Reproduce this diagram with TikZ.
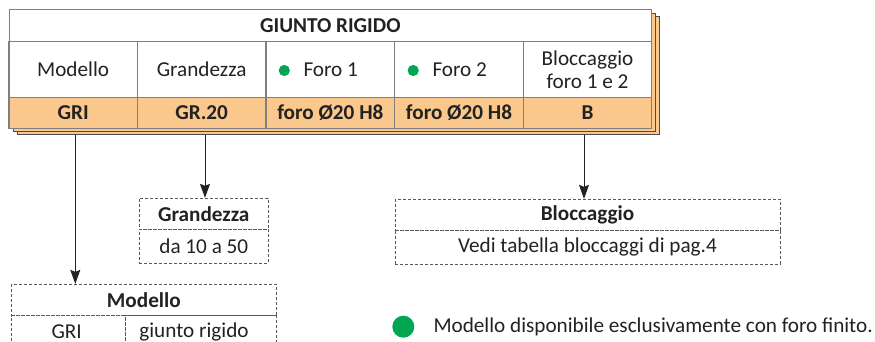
\documentclass[tikz,border=0pt]{standalone}
\usepackage{fontspec}
\setmainfont{Carlito}
\usetikzlibrary{arrows.meta}
\definecolor{orfill}{HTML}{FAC78C}
\definecolor{grline}{HTML}{7F7F7F}
\definecolor{shline}{HTML}{4D4D4D}
\definecolor{dotgreen}{HTML}{00A651}
\definecolor{txt}{HTML}{222222}
\definecolor{dashc}{HTML}{595959}
\tikzset{
  every node/.style={font=\fontsize{21.2}{24}\selectfont, text=txt, inner sep=0pt},
  cell/.style={draw=grline, line width=1pt, fill=white, minimum width=128.5pt, minimum height=56pt, align=center},
  ocell/.style={draw=grline, line width=1pt, fill=orfill, minimum width=128.5pt, minimum height=30.6pt, font=\fontsize{21.2}{24}\selectfont\bfseries},
  dbox/.style={draw=dashc, line width=0.9pt, dash pattern=on 3pt off 2pt, align=center},
  arr/.style={draw=txt, line width=1pt, -{Stealth[length=14pt,width=10pt,inset=2pt]}},
  gdot/.style={fill=dotgreen, draw=none}
}
\begin{document}
\begin{tikzpicture}[x=1pt,y=-1pt]
\useasboundingbox (0,0) rectangle (875,342);
\clip (0,0) rectangle (875,342);
% shadows
\draw[shline, line width=1pt, fill=orfill] (17,16.7) rectangle (659.7,135);
\draw[shline, line width=1pt, fill=orfill] (13,13.3) rectangle (655.7,131.6);
% title
\node[draw=grline, line width=1pt, fill=white, minimum width=642.7pt, minimum height=31.7pt, font=\fontsize{21.2}{24}\selectfont\bfseries] (title) at (330.35,25.85) {GIUNTO RIGIDO};
% header cells
\node[cell] (h1) at (73.15,69.7) {Modello};
\node[cell] (h2) at (201.65,69.7) {Grandezza};
\node[cell] (h3) at (330.35,69.7) {};
\node[cell] (h4) at (459,69.7) {};
\node[cell] (h5) at (587.5,69.7) {Bloccaggio\\[-1pt]foro 1 e 2};
\fill[gdot] (284.3,70.5) circle (5.6);
\node[anchor=west] (f1) at (303.3,70) {Foro 1};
\fill[gdot] (413.2,70.5) circle (5.6);
\node[anchor=west] (f2) at (432.3,70) {Foro 2};
% orange row
\node[ocell] (o1) at (73.15,113) {GRI};
\node[ocell] (o2) at (201.65,113) {GR.20};
\node[ocell] (o3) at (330.35,113) {foro Ø20 H8};
\node[ocell] (o4) at (459,113) {foro Ø20 H8};
\node[ocell] (o5) at (587.5,113) {B};
% outer border
\draw[grline, line width=1pt] (9,10) rectangle (651.7,128.3);
% Grandezza box
\node[dbox, minimum width=129pt, minimum height=31pt, font=\fontsize{21.2}{24}\selectfont\bfseries] (gT) at (203.8,213.8) {Grandezza};
\node[dbox, minimum width=129pt, minimum height=34pt] (gV) at (203.8,246.3) {da 10 a 50};
% Bloccaggio box
\node[dbox, minimum width=385pt, minimum height=30.7pt, font=\fontsize{21.2}{24}\selectfont\bfseries] (bT) at (587.5,214.65) {Bloccaggio};
\node[dbox, minimum width=385pt, minimum height=34pt] (bV) at (587.5,247) {Vedi tabella bloccaggi di pag.4};
% Modello box
\node[dbox, minimum width=264.3pt, minimum height=31.4pt, font=\fontsize{21.2}{24}\selectfont\bfseries] (mT) at (143.85,300) {Modello};
\node[dbox, minimum width=113.3pt, minimum height=36pt] (mA) at (68.35,333.7) {};
\node[dbox, minimum width=151pt, minimum height=36pt] (mB) at (200.5,333.7) {};
\node (mAt) at (66.7,332) {GRI};
\node (mBt) at (194,332) {giunto rigido};
% arrows
\coordinate (a1) at (75.3,135);
\coordinate (a2) at (205,135);
\coordinate (a3) at (584,135);
\draw[arr] (a1) -- (a1 |- mT.north);
\draw[arr] (a2) -- (a2 |- gT.north);
\draw[arr] (a3) -- (a3 |- bT.north);
% legend
\fill[gdot] (403.3,326.7) circle (11);
\node[anchor=west] (leg) at (433.3,326.5) {Modello disponibile esclusivamente con foro finito.};
\end{tikzpicture}
\end{document}
